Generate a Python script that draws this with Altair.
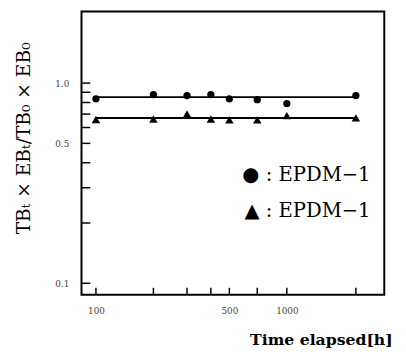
import altair as alt
import pandas as pd

# ---- data ----
hours = [100, 200, 300, 400, 500, 700, 1000, 2300]
circle_vals = [0.835, 0.877, 0.867, 0.877, 0.835, 0.826, 0.790, 0.867]
triangle_vals = [0.658, 0.662, 0.701, 0.662, 0.655, 0.655, 0.688, 0.670]
fit_circle = 0.851
fit_triangle = 0.670
x_tick_vals = [100, 200, 300, 400, 500, 700, 1000, 2300]
y_tick_vals = [0.1, 0.2, 0.3, 0.4, 0.5, 0.6, 0.7, 0.8, 0.9, 1.0]
x_label_vals = [100, 500, 1000]
y_label_vals = [0.1, 0.5, 1.0]
legend_lines = ["\u25cf : EPDM\u22121", "\u25b2 : EPDM\u22121"]
y_title = "TB\u209c \u00d7 EB\u209c/TB\u2080 \u00d7 EB\u2080"
x_title = "Time elapsed[h]"

W, H = 309, 289
xs = alt.Scale(type="log", domain=[84, 3240])
ys = alt.Scale(type="log", domain=[0.0877, 2.28])

pts = pd.DataFrame({
    "hour": hours + hours,
    "value": circle_vals + triangle_vals,
    "series": ["circle"] * len(hours) + ["triangle"] * len(hours),
})
fits = pd.DataFrame({"hour": [hours[0], hours[0]], "x2": [hours[-1], hours[-1]],
                     "value": [fit_circle, fit_triangle]})
xt = pd.DataFrame({"hour": x_tick_vals})
yt = pd.DataFrame({"value": y_tick_vals})

xaxis = alt.Axis(values=x_label_vals, ticks=False, domain=False, grid=False,
                 format="d", labelFontSize=9, labelColor="#444", labelPadding=12,
                 labelFont="DejaVu Serif",
                 title=x_title, titleFont="DejaVu Serif", titleFontSize=16,
                 titleFontWeight="bold", titleAlign="right", titleX=317, titleY=51,
                 titleBaseline="alphabetic", titleColor="black")
yaxis = alt.Axis(values=y_label_vals, ticks=False, domain=False, grid=False,
                 labelExpr="format(datum.value, '.1f')", labelFontSize=9,
                 labelColor="#444", labelPadding=13, labelFont="DejaVu Serif",
                 title=y_title, titleFont="DejaVu Serif", titleFontSize=19,
                 titleFontWeight="normal", titleAngle=270, titleX=-59, titleY=129,
                 titleAlign="center", titleBaseline="middle", titleColor="black")

X = alt.X("hour:Q", scale=xs, axis=xaxis)
Y = alt.Y("value:Q", scale=ys, axis=yaxis)

lines = alt.Chart(fits).mark_rule(color="black", strokeWidth=2).encode(
    x=X, x2="x2:Q", y=Y)

circles = alt.Chart(pts[pts.series == "circle"]).mark_point(
    shape="circle", filled=True, color="black", size=55, opacity=1
).encode(x=X, y=Y)

tris = alt.Chart(pts[pts.series == "triangle"]).mark_point(
    shape="triangle-up", filled=True, color="black", size=75, opacity=1
).encode(x=X, y=Y)

xticks = alt.Chart(xt).mark_rule(color="black", strokeWidth=1.5).encode(
    x=X, y=alt.value(H), y2=alt.value(H - 7))

yticks = alt.Chart(yt).mark_rule(color="black", strokeWidth=1.5).encode(
    y=Y, x=alt.value(0), x2=alt.value(9))

def legend_text(label, ypos):
    return alt.Chart(pd.DataFrame({"label": [label]})).mark_text(
        align="right", baseline="middle", font="DejaVu Serif", fontSize=20,
        color="black"
    ).encode(text="label:N", x=alt.value(295), y=alt.value(ypos))

leg1 = legend_text(legend_lines[0], 167)
leg2 = legend_text(legend_lines[1], 204)

chart = alt.layer(lines, xticks, yticks, circles, tris, leg1, leg2).properties(
    width=W, height=H,
    autosize=alt.AutoSizeParams(type="none"),
    padding={"left": 75, "top": 0, "right": 14, "bottom": 56},
).configure(
    background="white",
    view=alt.ViewConfig(stroke="black", strokeWidth=2),
    axis=alt.AxisConfig(grid=False),
)

chart.save("out.html", embed_options={"renderer": "svg", "actions": False})
